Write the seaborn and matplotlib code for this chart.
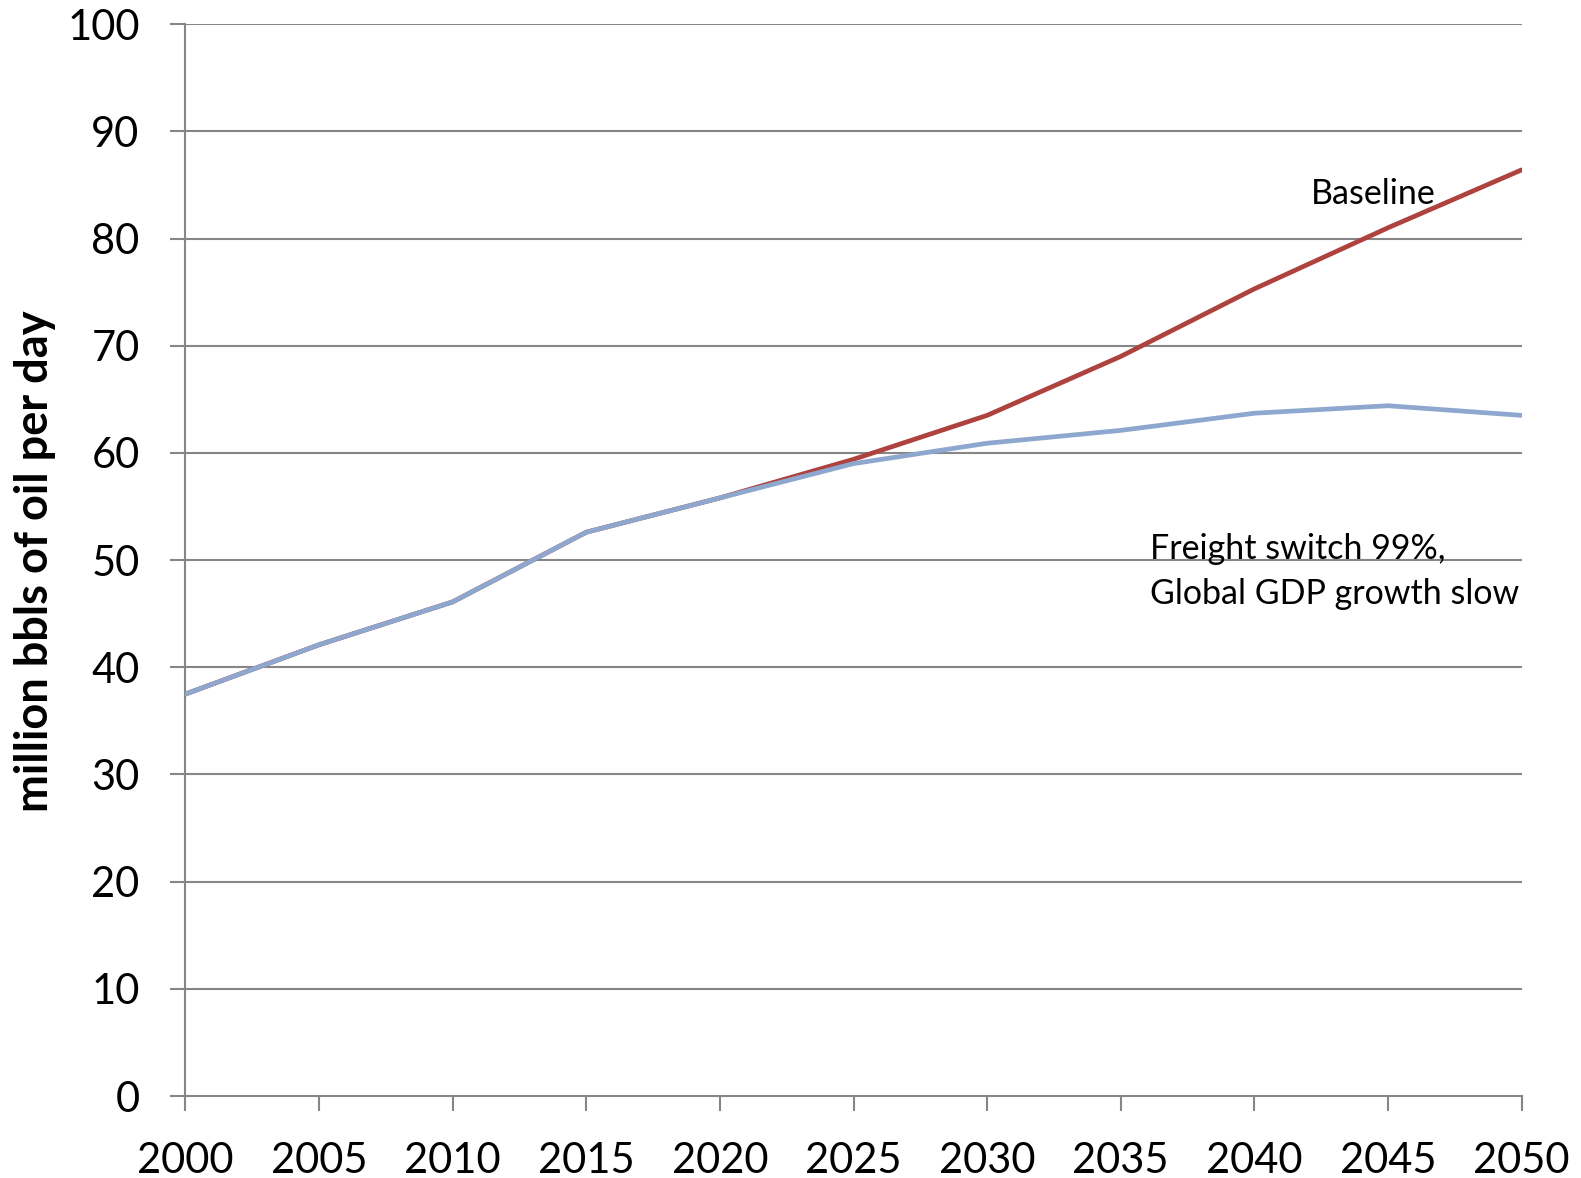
import matplotlib
matplotlib.use("Agg")
import matplotlib.pyplot as plt
import seaborn as sns
import pandas as pd

# Oil demand projections, million barrels per day
years = [2000, 2005, 2010, 2015, 2020, 2025, 2030, 2035, 2040, 2045, 2050]
baseline = [37.5, 42.1, 46.1, 52.6, 55.8, 59.4, 63.5, 69.0, 75.3, 81.0, 86.4]
freight_switch = [37.5, 42.1, 46.1, 52.6, 55.8, 59.0, 60.9, 62.1, 63.7, 64.4, 63.5]

series_names = ["Baseline", "Freight switch 99%,\nGlobal GDP growth slow"]
y_ticks = list(range(0, 101, 10))
x_ticks = list(range(2000, 2051, 5))

df = pd.DataFrame({
    "year": years * 2,
    "value": baseline + freight_switch,
    "series": [series_names[0]] * len(years) + [series_names[1]] * len(years),
})

sns.set_theme(style="white")
plt.rcParams["font.family"] = ["Lato", "DejaVu Sans"]

GRID = "#868686"
RED = "#AD423F"
BLUE = "#8EA7CF"

fig = plt.figure(figsize=(15.81, 11.78), dpi=100)
ax = fig.add_axes([0.1173, 0.0696, 0.8451, 0.9099])

sns.lineplot(data=df, x="year", y="value", hue="series",
             hue_order=series_names, palette=[RED, BLUE],
             linewidth=3.4, legend=False, ax=ax, zorder=3)

ax.set_xlim(2000, 2050)
ax.set_ylim(0, 100)
ax.set_xticks(x_ticks)
ax.set_yticks(y_ticks)
ax.set_xticklabels([str(t) for t in x_ticks])
ax.set_yticklabels([str(t) for t in y_ticks])

ax.grid(False)
for yv in y_ticks[1:]:
    ax.axhline(yv, color=GRID, lw=1.5, zorder=1)

for side in ("top", "right"):
    ax.spines[side].set_visible(False)
for side in ("left", "bottom"):
    ax.spines[side].set_color(GRID)
    ax.spines[side].set_linewidth(1.5)

ax.tick_params(axis="both", which="major", direction="out", length=11,
               width=1.5, color=GRID, labelsize=30, labelcolor="black",
               pad=22, left=True, bottom=True)

ax.set_xlabel("")
ax.set_ylabel("million bbls of oil per day", fontsize=32.5, fontweight="bold",
              color="black")
ax.yaxis.set_label_coords(-0.1124, 0.499)
ax.yaxis.label.set_va("center")

ax.text(2042.1, 84.2, series_names[0], fontsize=24.5, color="black",
        ha="left", va="center")
ax.text(2036.1, 48.95, series_names[1], fontsize=24.5, color="black",
        ha="left", va="center", linespacing=1.52)

fig.savefig("out.png", dpi=100)
